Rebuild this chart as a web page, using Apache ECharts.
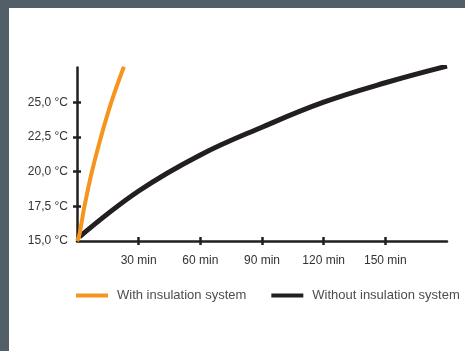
<!DOCTYPE html>
<html>
<head>
<meta charset="utf-8">
<script src="https://cdn.jsdelivr.net/npm/echarts@6/dist/echarts.min.js"></script>
<style>
  html, body { margin: 0; padding: 0; background: #fff; }
  #chart { width: 465px; height: 351px; }
</style>
</head>
<body>
<div id="chart"></div>
<script>
// time in minutes, temperature in °C
const withInsulation = [[0, 15], [1, 15.35], [2.2, 16.3], [3.5, 17.4], [7.1, 19.9], [11.3, 22.3], [16.7, 25], [22.8, 27.55]]
const withoutInsulation = [[1.2, 15.3], [30, 18.6], [60, 21.2], [90, 23.2], [120, 25], [150, 26.4], [180, 27.6]]
const seriesNames = ['With insulation system', 'Without insulation system']
const xTicks = [30, 60, 90, 120, 150]
const yTicks = [17.5, 20, 22.5, 25]
const yLabels = [15, 17.5, 20, 22.5, 25]

const ink = '#231f20'
const chart = echarts.init(document.getElementById('chart'))

const xBase = {
  type: 'value',
  min: 0,
  max: 180,
  interval: 30,
  splitLine: { show: false }
}
const yBase = {
  type: 'value',
  min: 15,
  max: 27.5,
  interval: 2.5,
  splitLine: { show: false }
}

chart.setOption({
  animation: false,
  textStyle: { fontFamily: 'Liberation Sans, Arial, sans-serif' },
  graphic: [
    { type: 'rect', z: -10, shape: { x: 0, y: 0, width: 465, height: 8 }, style: { fill: '#525f68' } },
    { type: 'rect', z: -10, shape: { x: 0, y: 0, width: 9, height: 351 }, style: { fill: '#525f68' } }
  ],
  grid: { left: 77, right: 18, top: 67.5, bottom: 110 },
  legend: {
    left: 76,
    top: 289,
    padding: 0,
    icon: 'rect',
    itemWidth: 32,
    itemHeight: 4,
    itemGap: 25,
    data: seriesNames,
    textStyle: { color: '#4d4d4d', fontSize: 13, padding: [0, 0, 0, 4] }
  },
  xAxis: [
    Object.assign({}, xBase, {
      axisLine: { show: true, lineStyle: { color: ink, width: 2.5 } },
      axisTick: { show: true, inside: false, length: 4, customValues: xTicks, lineStyle: { color: ink, width: 2.5 } },
      axisLabel: {
        color: '#333',
        fontSize: 12,
        margin: 14,
        customValues: xTicks,
        formatter: v => v + ' min'
      }
    }),
    Object.assign({}, xBase, {
      position: 'bottom',
      axisLine: { show: false },
      axisTick: { show: true, inside: true, length: 4, customValues: xTicks, lineStyle: { color: ink, width: 2.5 } },
      axisLabel: { show: false }
    })
  ],
  yAxis: [
    Object.assign({}, yBase, {
      axisLine: { show: true, lineStyle: { color: ink, width: 2.5 } },
      axisTick: { show: true, inside: false, length: 4, customValues: yTicks, lineStyle: { color: ink, width: 2.5 } },
      axisLabel: {
        color: '#333',
        fontSize: 12,
        margin: 9,
        customValues: yLabels,
        formatter: v => v.toFixed(1).replace('.', ',') + ' °C'
      }
    }),
    Object.assign({}, yBase, {
      position: 'left',
      axisLine: { show: false },
      axisTick: { show: true, inside: true, length: 4, customValues: yTicks, lineStyle: { color: ink, width: 2.5 } },
      axisLabel: { show: false }
    })
  ],
  series: [
    {
      name: seriesNames[0],
      type: 'line',
      data: withInsulation,
      smooth: 0.4,
      symbol: 'none',
      z: 3,
      itemStyle: { color: '#f7941d' },
      lineStyle: { color: '#f7941d', width: 4 }
    },
    {
      name: seriesNames[1],
      type: 'line',
      data: withoutInsulation,
      smooth: 0.4,
      symbol: 'none',
      z: 2,
      itemStyle: { color: ink },
      lineStyle: { color: ink, width: 5 }
    }
  ]
})
</script>
</body>
</html>
